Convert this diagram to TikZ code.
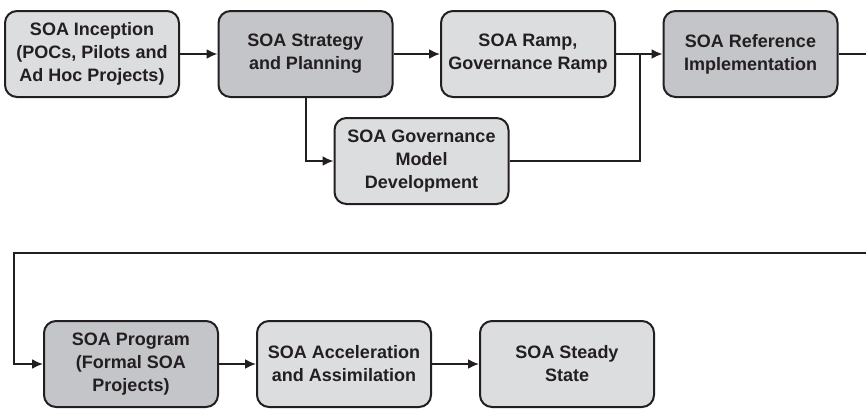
\documentclass[tikz,border=0pt]{standalone}
\usepackage{fontspec}
\setmainfont{Liberation Sans}
\usetikzlibrary{arrows.meta}
\definecolor{stagegray}{RGB}{220,221,223}
\definecolor{keygray}{RGB}{196,197,200}
\definecolor{inkline}{RGB}{35,31,32}

\begin{document}
\begin{tikzpicture}[x=1pt, y=1pt, node distance=222.5pt,
    every node/.style={font=\fontsize{18}{23}\selectfont\bfseries, text=inkline},
    stage/.style={rectangle, rounded corners=12pt, draw=inkline, line width=2pt, fill=stagegray, align=center, minimum width=174pt, minimum height=86pt},
    keystage/.style={stage, fill=keygray},
    flow/.style={draw=inkline, line width=2pt, -{Latex[length=11pt,width=10pt]}}]

\useasboundingbox (0,0) rectangle (866,-408);
\clip (0,0) rectangle (866,-408);

% Top row
\node[stage] (inception) at (92,-54) {SOA Inception\\(POCs, Pilots and\\Ad Hoc Projects)};
\node[keystage, right of=inception, xshift=-9pt] (strategy) {SOA Strategy\\and Planning};
\node[stage, right of=strategy] (ramp) {SOA Ramp,\\Governance Ramp};
\node[keystage, right of=ramp] (reference) {SOA Reference\\Implementation};

% Branch
\node[stage] (governance) at (421.5,-161) {SOA Governance\\Model\\Development};

% Bottom row
\node[keystage] (program) at (131,-364) {SOA Program\\(Formal SOA\\Projects)};
\node[stage, right of=program, xshift=-9.5pt] (accel) {SOA Acceleration\\and Assimilation};
\node[stage, right of=accel, xshift=0.5pt] (steady) {SOA Steady\\State};

% Turning points
\coordinate (join) at (640,-54);
\coordinate (turnR) at (890,-54);
\coordinate (turnL) at (14,-253);

% Arrows
\draw[flow] (inception) -- (strategy);
\draw[flow] (strategy) -- (ramp);
\draw[flow] (ramp) -- (reference);
\draw[flow] (strategy.south) |- (governance.west);
\draw[draw=inkline, line width=2pt] (governance.east) -| (join);
\draw[flow] (reference.east) -- (turnR) |- (turnL) |- (program.west);
\draw[flow] (program) -- (accel);
\draw[flow] (accel) -- (steady);

\end{tikzpicture}
\end{document}
